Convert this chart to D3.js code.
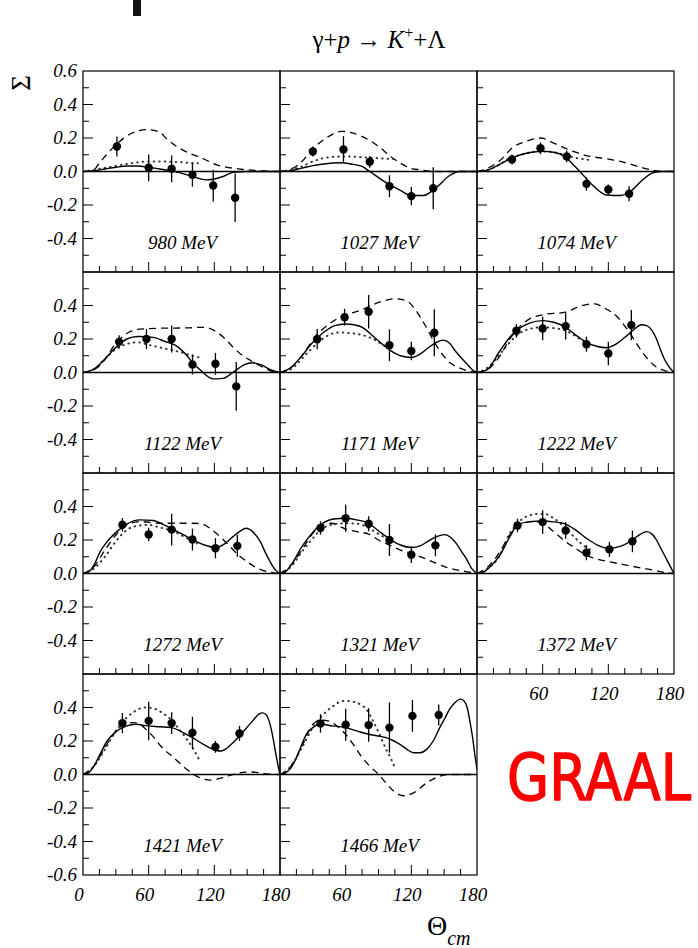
<!DOCTYPE html>
<html>
<head>
<meta charset="utf-8">
<script src="https://cdnjs.cloudflare.com/ajax/libs/d3/7.8.5/d3.min.js"></script>
<style>
body{margin:0;background:#fff}
svg{display:block}
</style>
</head>
<body>
<script>
// photon beam energies, one panel each
var energies=[980,1027,1074,1122,1171,1222,1272,1321,1372,1421,1466]

// GRAAL points : [theta, sigma, error]
var points=[
 [[31,0.149,0.06],[60,0.022,0.08],[81,0.016,0.08],[100,-0.02,0.07],[119,-0.084,0.095],[139,-0.157,0.145]],
 [[30,0.119,0.03],[58,0.131,0.08],[82,0.058,0.035],[100,-0.088,0.065],[120,-0.147,0.055],[140,-0.1,0.125]],
 [[32,0.072,0.03],[58,0.139,0.035],[82,0.09,0.035],[100,-0.074,0.04],[120,-0.107,0.03],[139,-0.133,0.045]],
 [[33,0.183,0.04],[58,0.2,0.06],[81,0.2,0.08],[100,0.048,0.06],[121,0.052,0.065],[140,-0.083,0.145]],
 [[34,0.199,0.06],[59,0.33,0.05],[81,0.363,0.1],[100,0.163,0.095],[120,0.128,0.055],[141,0.237,0.14]],
 [[36,0.249,0.04],[60,0.263,0.07],[81,0.277,0.08],[100,0.169,0.045],[120,0.113,0.07],[141,0.283,0.09]],
 [[36,0.291,0.04],[60,0.233,0.04],[81,0.262,0.095],[100,0.203,0.065],[121,0.151,0.06],[141,0.165,0.065]],
 [[37,0.272,0.04],[60,0.33,0.08],[81,0.297,0.045],[100,0.2,0.095],[120,0.112,0.05],[142,0.168,0.065]],
 [[37,0.287,0.04],[60,0.307,0.07],[81,0.257,0.05],[100,0.124,0.045],[121,0.144,0.045],[142,0.192,0.065]],
 [[36,0.307,0.06],[60,0.32,0.115],[81,0.307,0.065],[100,0.25,0.095],[121,0.165,0.035],[143,0.245,0.045]],
 [[37,0.305,0.055],[60,0.297,0.095],[81,0.295,0.1],[100,0.28,0.15],[121,0.35,0.095],[145,0.355,0.063]]
]

// full model (solid)
var solidCurves=[
 [[0,0],[10,0.005],[20,0.015],[30,0.025],[40,0.033],[50,0.033],[60,0.025],[70,0.015],[80,0.005],[90,-0.01],[100,-0.03],[113,-0.05],[120,-0.045],[128,-0.03],[137,-0.005],[150,0],[180,0]],
 [[0,0],[10,0.005],[20,0.02],[30,0.035],[40,0.045],[55,0.052],[65,0.045],[75,0.03],[82,0],[94,-0.054],[110,-0.113],[120,-0.143],[131,-0.143],[143,-0.094],[155,-0.024],[164,0],[180,0]],
 [[0,0],[10,0.01],[20,0.04],[30,0.075],[40,0.1],[50,0.115],[60,0.12],[70,0.115],[80,0.09],[88,0.04],[94,0],[106,-0.084],[118,-0.14],[131,-0.143],[141,-0.115],[149,-0.064],[160,-0.01],[168,0],[180,0]],
 [[0,0],[10,0.02],[20,0.08],[30,0.15],[40,0.2],[50,0.215],[64,0.21],[75,0.185],[85,0.16],[95,0.1],[100,0.06],[107,0.016],[119,-0.038],[128,-0.035],[137,0],[147,0.045],[155,0.058],[163,0.045],[172,0.015],[180,0]],
 [[0,0],[10,0.03],[20,0.1],[30,0.18],[40,0.24],[50,0.28],[60,0.29],[73,0.276],[88,0.2],[100,0.135],[110,0.1],[120,0.09],[128,0.11],[136,0.15],[143,0.18],[149,0.193],[155,0.175],[160,0.13],[166,0.085],[171,0.05],[176,0.015],[180,0]],
 [[0,0],[9,0.016],[21,0.13],[30,0.21],[36,0.25],[48,0.295],[60,0.31],[70,0.3],[81,0.27],[90,0.225],[100,0.18],[110,0.155],[118,0.148],[127,0.17],[137,0.22],[144,0.26],[150,0.285],[155,0.28],[160,0.25],[164,0.2],[168,0.13],[172,0.07],[176,0.03],[180,0]],
 [[0,0],[5,0.01],[10,0.05],[15.5,0.128],[22,0.19],[31,0.25],[40,0.295],[52,0.32],[64,0.316],[74,0.29],[83,0.26],[92,0.23],[101,0.2],[111,0.17],[121,0.155],[130,0.18],[137,0.22],[144,0.255],[149,0.27],[155,0.25],[162,0.19],[167,0.12],[171,0.07],[176,0.02],[180,0]],
 [[0,0],[5,0.01],[12,0.07],[20,0.16],[28,0.23],[37,0.29],[49,0.325],[60,0.33],[70,0.32],[81,0.3],[90,0.255],[100,0.207],[110,0.17],[120,0.155],[128,0.165],[134,0.187],[143,0.22],[151,0.232],[156,0.215],[161,0.18],[166,0.13],[171,0.08],[175,0.03],[180,0]],
 [[0,0],[5,0.005],[12,0.04],[21,0.11],[30,0.22],[37,0.29],[48,0.31],[60,0.313],[70,0.308],[81,0.295],[90,0.26],[100,0.21],[110,0.17],[121,0.15],[130,0.16],[137,0.18],[146,0.22],[155,0.25],[160,0.235],[164,0.2],[168,0.15],[172,0.1],[176,0.05],[180,0]],
 [[0,0],[5,0.01],[10,0.05],[15.5,0.12],[22,0.2],[31,0.26],[40,0.29],[48,0.3],[59,0.29],[70,0.285],[81,0.28],[90,0.255],[100,0.22],[110,0.18],[121,0.145],[126,0.14],[131,0.155],[137,0.19],[143,0.23],[149,0.275],[155,0.32],[161,0.362],[164,0.368],[167,0.36],[170,0.32],[173,0.24],[176,0.13],[178,0.06],[180,0]],
 [[0,0],[5,0.01],[10,0.04],[15,0.1],[20,0.18],[24,0.24],[30,0.28],[37,0.3],[48,0.29],[60,0.28],[70,0.26],[81,0.24],[90,0.23],[97,0.22],[104,0.2],[110,0.178],[116,0.15],[122,0.13],[128,0.13],[134,0.15],[140,0.2],[146,0.28],[151,0.34],[155,0.39],[160,0.43],[165,0.45],[168,0.44],[171,0.4],[174,0.3],[176,0.22],[178,0.12],[180,0.03]]
]

// dashed model
var dashedCurves=[
 [[0,0],[9,0.005],[15.5,0.055],[31,0.165],[45,0.23],[59,0.25],[70,0.235],[76.5,0.195],[95,0.115],[107,0.085],[122,0.04],[137,0.02],[150,0.01],[165,0.003],[180,0]],
 [[0,0],[12,0.02],[20,0.06],[30,0.135],[40,0.19],[49,0.225],[56,0.24],[73,0.215],[82,0.185],[91,0.145],[100,0.095],[110,0.05],[119,0.02],[128,0.01],[146,0],[180,0]],
 [[0,0],[10,0.02],[20,0.06],[33,0.145],[45,0.18],[58,0.2],[70,0.17],[82,0.135],[90,0.115],[100,0.095],[118,0.076],[130,0.062],[137,0.05],[147,0.03],[155,0.016],[167,0.002],[180,0]],
 [[0,0],[8,0.01],[15.5,0.042],[32,0.19],[42,0.24],[49,0.257],[60,0.262],[76,0.265],[95,0.266],[110,0.27],[122,0.243],[130,0.2],[137,0.152],[146,0.1],[153,0.072],[165,0.03],[177,0],[180,0]],
 [[0,0],[12,0.04],[20,0.1],[33,0.22],[45,0.29],[58,0.34],[73,0.37],[91,0.42],[105,0.44],[115,0.43],[122,0.39],[131,0.3],[143,0.16],[155,0.06],[165,0.025],[175,0.005],[180,0]],
 [[0,0],[10,0.02],[20,0.09],[30,0.2],[40,0.28],[48,0.32],[60,0.345],[81,0.36],[92,0.39],[100,0.405],[108,0.41],[115,0.39],[128,0.333],[140,0.232],[152,0.113],[164,0.032],[172,0.01],[180,0]],
 [[0,0],[10,0.04],[20,0.14],[30,0.23],[40,0.29],[52,0.31],[70,0.3],[83,0.3],[100,0.3],[108,0.297],[118,0.26],[130,0.19],[142,0.11],[150,0.07],[157,0.04],[169,0.01],[180,0]],
 [[0,0],[10,0.05],[20,0.14],[30,0.24],[40,0.29],[47,0.3],[55,0.28],[60,0.265],[70,0.25],[81,0.235],[90,0.2],[100,0.17],[110,0.14],[120,0.12],[134,0.085],[152,0.037],[171,0.01],[180,0]],
 [[0,0],[10,0.04],[20,0.12],[30,0.23],[40,0.29],[50,0.31],[60,0.3],[70,0.25],[81,0.19],[90,0.15],[100,0.11],[110,0.085],[121,0.07],[142,0.043],[161,0.02],[173,0.005],[180,0]],
 [[0,0],[10,0.05],[20,0.16],[30,0.26],[40,0.305],[46,0.31],[52,0.3],[59,0.26],[65,0.22],[71,0.17],[83,0.1],[95,0.03],[107,-0.02],[116,-0.034],[128,-0.018],[143,0.01],[155,0.015],[165,0.005],[180,0]],
 [[0,0],[10,0.05],[20,0.17],[30,0.3],[37,0.325],[44,0.32],[52,0.29],[60,0.24],[67,0.18],[73,0.12],[82,0.05],[91,-0.005],[98,-0.06],[104,-0.1],[113,-0.127],[122,-0.11],[134,-0.05],[146,-0.01],[155,0],[180,0]]
]

// dotted model, only computed up to about 105 deg
var dottedCurves=[
 [[0,0],[10,0.01],[15,0.016],[32,0.035],[45,0.05],[59,0.06],[70,0.06],[80,0.058],[90,0.055],[101,0.05],[105,0.05]],
 [[0,0],[10,0.01],[20,0.03],[30,0.06],[40,0.08],[50,0.088],[64,0.09],[75,0.085],[88,0.08],[100,0.076],[108,0.072]],
 [[0,0],[10,0.01],[20,0.04],[30,0.08],[40,0.1],[50,0.115],[60,0.12],[70,0.115],[80,0.1],[88,0.085],[96,0.075],[102,0.07]],
 [[0,0],[10,0.02],[20,0.08],[30,0.14],[40,0.17],[50,0.18],[58,0.168],[70,0.15],[80,0.135],[90,0.12],[100,0.1],[106,0.09]],
 [[0,0],[10,0.02],[24,0.11],[35,0.18],[45,0.225],[55,0.24],[64,0.235],[73,0.227],[88,0.19],[94,0.165],[100,0.15]],
 [[0,0],[10,0.03],[21,0.11],[30,0.18],[36,0.22],[48,0.26],[60,0.27],[70,0.265],[81,0.25],[94,0.2],[100,0.18],[104,0.165]],
 [[0,0],[10,0.03],[20,0.1],[31,0.2],[40,0.26],[50,0.285],[59,0.29],[70,0.275],[83,0.25],[95,0.21],[104,0.18]],
 [[0,0],[10,0.04],[20,0.13],[30,0.21],[37,0.26],[50,0.295],[60,0.3],[71,0.297],[80,0.275],[89,0.24],[97,0.21],[103,0.19]],
 [[0,0],[10,0.03],[20,0.1],[30,0.24],[37,0.3],[45,0.34],[55,0.355],[62,0.355],[70,0.33],[81,0.27],[90,0.21],[100,0.155],[104,0.14]],
 [[0,0],[10,0.05],[20,0.15],[31,0.27],[40,0.34],[48,0.38],[56,0.4],[64,0.395],[72,0.37],[80,0.33],[89,0.26],[95,0.21],[101,0.15],[106,0.09]],
 [[0,0],[10,0.05],[20,0.16],[30,0.28],[37,0.34],[43,0.38],[49,0.41],[55,0.435],[60,0.44],[66,0.435],[73,0.42],[80,0.38],[85,0.32],[91,0.24],[97,0.15],[101,0.1],[105,0.04]]
]

var yTicksTop=[0.6,0.4,0.2,0,-0.2,-0.4]
var yTicksMid=[0.4,0.2,0,-0.2,-0.4]
var yTicksBottom=[0.4,0.2,0,-0.2,-0.4,-0.6]
var xTickLabels=[0,60,120,180]

var width=698, height=948
var gridLeft=83, gridTop=71, colW=197, rowH=201
var serif="'Liberation Serif','Times New Roman',serif"

var fmt=d3.formatLocale({decimal:".",thousands:",",grouping:[3],currency:["",""],minus:"-"}).format(".1f")

var svg=d3.select("body").append("svg")
	.attr("width",width)
	.attr("height",height)
	.style("font-family",serif)

// little black mark at the top (part of the scanned page)
svg.append("rect").attr("x",133).attr("y",0).attr("width",8).attr("height",16).attr("fill","#111")

// title
var title=svg.append("text")
	.attr("x",379).attr("y",48)
	.attr("text-anchor","middle")
	.attr("font-size",25)
title.append("tspan").text("\u03b3+")
title.append("tspan").attr("font-style","italic").text("p")
title.append("tspan").text(" \u2192 ")
title.append("tspan").attr("font-style","italic").text("K")
title.append("tspan").attr("font-size",16).attr("dy",-10).text("+")
title.append("tspan").attr("dy",10).text("+\u039b")

// sigma label
svg.append("text")
	.attr("transform","translate(30,83) rotate(-90)")
	.attr("text-anchor","middle")
	.attr("font-size",27)
	.text("\u03a3")

function panel(i)
{
	var row=Math.floor(i/3)
	var col=i%3
	var x0=gridLeft+col*colW
	var y0=gridTop+row*rowH

	var scaleX=d3.scaleLinear().domain([0,180]).range([x0,x0+colW])
	var scaleY=d3.scaleLinear().domain([-0.6,0.6]).range([y0+rowH,y0])

	var g=svg.append("g").attr("class","panel")

	g.append("clipPath")
		.attr("id","clip"+i)
		.append("rect")
		.attr("x",x0).attr("y",y0)
		.attr("width",colW).attr("height",rowH)

	// frame
	g.append("rect")
		.attr("x",x0).attr("y",y0)
		.attr("width",colW).attr("height",rowH)
		.attr("fill","none")
		.attr("stroke","#000")
		.attr("stroke-width",1.2)

	// ticks on the left and bottom, pointing in
	var yt=d3.range(-5,6).map(function(d){return d/10})
	g.selectAll("line.yt").data(yt).enter().append("line")
		.attr("x1",x0)
		.attr("x2",function(d){return x0+(Math.round(d*10)%2==0?10:6)})
		.attr("y1",function(d){return scaleY(d)})
		.attr("y2",function(d){return scaleY(d)})
		.attr("stroke","#000").attr("stroke-width",1)
	var xt=d3.range(15,180,15)
	g.selectAll("line.xt").data(xt).enter().append("line")
		.attr("x1",function(d){return scaleX(d)})
		.attr("x2",function(d){return scaleX(d)})
		.attr("y1",y0+rowH)
		.attr("y2",function(d){return y0+rowH-(d%60==0?10:6)})
		.attr("stroke","#000").attr("stroke-width",1)

	// zero line
	g.append("line")
		.attr("x1",x0).attr("x2",x0+colW)
		.attr("y1",scaleY(0)).attr("y2",scaleY(0))
		.attr("stroke","#000").attr("stroke-width",1.3)

	var line=d3.line()
		.x(function(d){return scaleX(d[0])})
		.y(function(d){return scaleY(d[1])})
		.curve(d3.curveMonotoneX)

	var curves=g.append("g").attr("clip-path","url(#clip"+i+")")
	curves.append("path").attr("d",line(dashedCurves[i]))
		.attr("fill","none").attr("stroke","#000").attr("stroke-width",1.3)
		.attr("stroke-dasharray","7,5")
	curves.append("path").attr("d",line(dottedCurves[i]))
		.attr("fill","none").attr("stroke","#333").attr("stroke-width",2)
		.attr("stroke-dasharray","0.5,5").attr("stroke-linecap","round")
	curves.append("path").attr("d",line(solidCurves[i]))
		.attr("fill","none").attr("stroke","#000").attr("stroke-width",1.4)

	// data with error bars
	g.selectAll("line.err").data(points[i]).enter().append("line")
		.attr("x1",function(d){return scaleX(d[0])})
		.attr("x2",function(d){return scaleX(d[0])})
		.attr("y1",function(d){return scaleY(d[1]-d[2])})
		.attr("y2",function(d){return scaleY(d[1]+d[2])})
		.attr("stroke","#000").attr("stroke-width",1.3)
	g.selectAll("circle").data(points[i]).enter().append("circle")
		.attr("cx",function(d){return scaleX(d[0])})
		.attr("cy",function(d){return scaleY(d[1])})
		.attr("r",4.2)
		.attr("fill","#000")

	g.append("text")
		.attr("x",x0+colW/2+1)
		.attr("y",scaleY(-0.42)+7)
		.attr("text-anchor","middle")
		.attr("font-style","italic")
		.attr("font-size",19)
		.text(energies[i]+" MeV")

	// y labels on first column
	if(col==0)
	{
		var yl=row==0?yTicksTop:(row==3?yTicksBottom:yTicksMid)
		g.selectAll("text.yl").data(yl).enter().append("text")
			.attr("x",x0-6)
			.attr("y",function(d){return scaleY(d)+6})
			.attr("text-anchor","end")
			.attr("font-style","italic")
			.attr("font-size",19)
			.text(function(d){return fmt(d)})
	}

	// x labels under the lowest panel of each column
	if(row==3 || (row==2 && col==2))
	{
		var xl=col==0?xTickLabels:xTickLabels.slice(1)
		g.selectAll("text.xl").data(xl).enter().append("text")
			.attr("x",function(d){return scaleX(d)-4})
			.attr("y",y0+rowH+26)
			.attr("text-anchor","middle")
			.attr("font-style","italic")
			.attr("font-size",19)
			.text(function(d){return d})
	}
}

for(var i=0;i<energies.length;i=i+1)
{
	panel(i)
}

// x axis title
var xt=svg.append("text").attr("x",427).attr("y",935).attr("font-size",28)
xt.append("tspan").text("\u0398")
xt.append("tspan").attr("font-style","italic").attr("font-size",20).attr("dy",10).text("cm")

// GRAAL label, squeezed horizontally so it ends at the page edge
svg.append("g")
	.attr("transform","translate(507,800) scale(0.85,1)")
	.append("text")
	.attr("x",0).attr("y",0)
	.style("font-family","'Comic Sans MS','DejaVu Sans',sans-serif")
	.attr("font-size",64)
	.attr("fill","#ff0000")
	.attr("stroke","#ff0000")
	.attr("stroke-width",1.5)
	.attr("stroke-linejoin","round")
	.text("GRAAL")
</script>
</body>
</html>
